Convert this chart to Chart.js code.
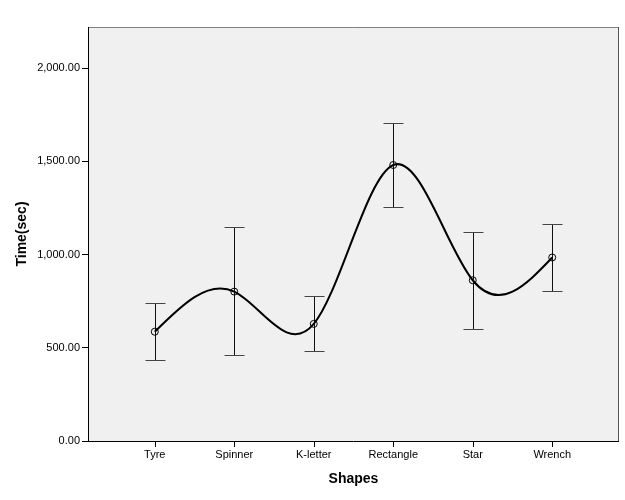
<!DOCTYPE html>
<html><head><meta charset="utf-8">
<script src="https://cdn.jsdelivr.net/npm/chart.js@4/dist/chart.umd.min.js"></script>
<style>html,body{margin:0;padding:0;background:#fff}#wrap{width:625px;height:500px;position:relative}</style>
</head><body><div id="wrap"><canvas id="c"></canvas></div>
<script>
const categories = ['Tyre', 'Spinner', 'K-letter', 'Rectangle', 'Star', 'Wrench'];
const meanTime = [586, 801, 628, 1480, 862, 984];
const upperTime = [741, 1146, 775, 1703, 1123, 1164];
const lowerTime = [432, 459, 480, 1253, 598, 803];
const yTickValues = [0, 500, 1000, 1500, 2000];
const yMax = 2220;
const xTitle = 'Shapes';
const yTitle = 'Time(sec)';

const FONT = 'Liberation Sans, Arial, sans-serif';

function naturalSecondDerivs(xs, ys) {
  const n = xs.length, h = [], M = new Array(n).fill(0);
  for (let i = 0; i < n - 1; i++) h[i] = xs[i + 1] - xs[i];
  const a = [], b = [], c = [], d = [];
  for (let i = 1; i < n - 1; i++) {
    a[i] = h[i - 1]; b[i] = 2 * (h[i - 1] + h[i]); c[i] = h[i];
    d[i] = 6 * ((ys[i + 1] - ys[i]) / h[i] - (ys[i] - ys[i - 1]) / h[i - 1]);
  }
  for (let i = 2; i < n - 1; i++) {
    const w = a[i] / b[i - 1];
    b[i] -= w * c[i - 1]; d[i] -= w * d[i - 1];
  }
  if (n > 2) {
    M[n - 2] = d[n - 2] / b[n - 2];
    for (let i = n - 3; i >= 1; i--) M[i] = (d[i] - c[i] * M[i + 1]) / b[i];
  }
  return M;
}

const plotPlugin = {
  id: 'plotPlugin',
  beforeDraw(chart) {
    const {ctx, chartArea: a} = chart;
    const L = Math.round(a.left), R = Math.round(a.right), T = Math.round(a.top), B = Math.round(a.bottom);
    ctx.save();
    ctx.fillStyle = '#f0f0f0';
    ctx.fillRect(L, T, R - L, B - T);
    ctx.lineWidth = 1;
    ctx.strokeStyle = '#808080';
    ctx.beginPath();
    ctx.moveTo(L, T + 0.5);
    ctx.lineTo(R, T + 0.5);
    ctx.stroke();
    ctx.strokeStyle = '#555';
    ctx.beginPath();
    ctx.moveTo(R - 0.5, T);
    ctx.lineTo(R - 0.5, B);
    ctx.stroke();
    ctx.restore();
  },
  afterDraw(chart) {
    const {ctx, chartArea: a, scales: {x}} = chart;
    const L = Math.round(a.left), R = Math.round(a.right), B = Math.round(a.bottom);
    ctx.save();
    ctx.strokeStyle = '#000';
    ctx.lineWidth = 1;
    ctx.beginPath();
    ctx.moveTo(L, B + 0.5);
    ctx.lineTo(R, B + 0.5);
    for (let i = 0; i < categories.length; i++) {
      const px = Math.round(x.getPixelForValue(i)) + 0.5;
      ctx.moveTo(px, B);
      ctx.lineTo(px, B + 6);
    }
    ctx.stroke();
    ctx.restore();
  },
  beforeDatasetsDraw(chart) {
    const {ctx, scales: {x, y}} = chart;
    ctx.save();
    ctx.lineWidth = 1;
    for (let i = 0; i < categories.length; i++) {
      const px = Math.round(x.getPixelForValue(i)) + 0.5;
      const yu = Math.round(y.getPixelForValue(upperTime[i])) + 0.5;
      const yl = Math.round(y.getPixelForValue(lowerTime[i])) + 0.5;
      ctx.strokeStyle = '#111';
      ctx.beginPath();
      ctx.moveTo(px, yu); ctx.lineTo(px, yl);
      ctx.stroke();
      ctx.strokeStyle = '#444';
      ctx.beginPath();
      ctx.moveTo(px - 10, yu); ctx.lineTo(px + 10, yu);
      ctx.moveTo(px - 10, yl); ctx.lineTo(px + 10, yl);
      ctx.stroke();
    }
    const xs = meanTime.map((v, i) => x.getPixelForValue(i));
    const ys = meanTime.map(v => y.getPixelForValue(v));
    const M = naturalSecondDerivs(xs, ys);
    ctx.strokeStyle = '#000';
    ctx.lineWidth = 2;
    ctx.lineJoin = 'round';
    ctx.beginPath();
    ctx.moveTo(xs[0], ys[0]);
    for (let i = 0; i < xs.length - 1; i++) {
      const h = xs[i + 1] - xs[i];
      const sl = (ys[i + 1] - ys[i]) / h;
      const s0 = sl - h * (2 * M[i] + M[i + 1]) / 6;
      const s1 = sl + h * (M[i] + 2 * M[i + 1]) / 6;
      ctx.bezierCurveTo(xs[i] + h / 3, ys[i] + s0 * h / 3,
                        xs[i + 1] - h / 3, ys[i + 1] - s1 * h / 3,
                        xs[i + 1], ys[i + 1]);
    }
    ctx.stroke();
    ctx.restore();
  }
};

new Chart(document.getElementById('c'), {
  type: 'line',
  data: {
    datasets: [{
      data: meanTime.map((v, i) => ({x: i, y: v})),
      showLine: false,
      pointRadius: 3.5,
      pointHoverRadius: 3.5,
      pointBorderWidth: 1,
      pointBorderColor: '#000',
      pointBackgroundColor: 'rgba(0,0,0,0)'
    }]
  },
  options: {
    responsive: true,
    maintainAspectRatio: false,
    animation: false,
    events: [],
    layout: {padding: {left: 0, top: 27, right: 6, bottom: 0}},
    plugins: {legend: {display: false}, tooltip: {enabled: false}},
    scales: {
      x: {
        type: 'linear',
        min: -0.84,
        max: 5.84,
        afterBuildTicks: s => { s.ticks = categories.map((c, i) => ({value: i})); },
        afterFit: s => { s.height = 59; },
        ticks: {
          callback: v => categories[v],
          color: '#000',
          font: {family: FONT, size: 11},
          padding: 2,
          maxRotation: 0,
          autoSkip: false
        },
        grid: {display: false, drawOnChartArea: false, tickLength: 5},
        border: {display: false},
        title: {
          display: true, text: xTitle, color: '#000',
          font: {family: FONT, size: 14, weight: 'bold'},
          padding: {top: 0, bottom: 12.6}
        }
      },
      y: {
        min: 0,
        max: yMax,
        afterBuildTicks: s => { s.ticks = yTickValues.map(v => ({value: v})); },
        afterFit: s => { s.width = 88; },
        ticks: {
          callback: v => Number(v).toLocaleString('en-US', {minimumFractionDigits: 2, maximumFractionDigits: 2}),
          color: '#000',
          font: {family: FONT, size: 11},
          padding: 2
        },
        grid: {drawOnChartArea: false, tickLength: 6, color: '#000', tickColor: '#000'},
        border: {color: '#000', width: 1},
        title: {
          display: true, text: yTitle, color: '#000',
          font: {family: FONT, size: 14, weight: 'bold'},
          padding: {top: 13.6, bottom: 0}
        }
      }
    }
  },
  plugins: [plotPlugin]
});
</script>
</body></html>
